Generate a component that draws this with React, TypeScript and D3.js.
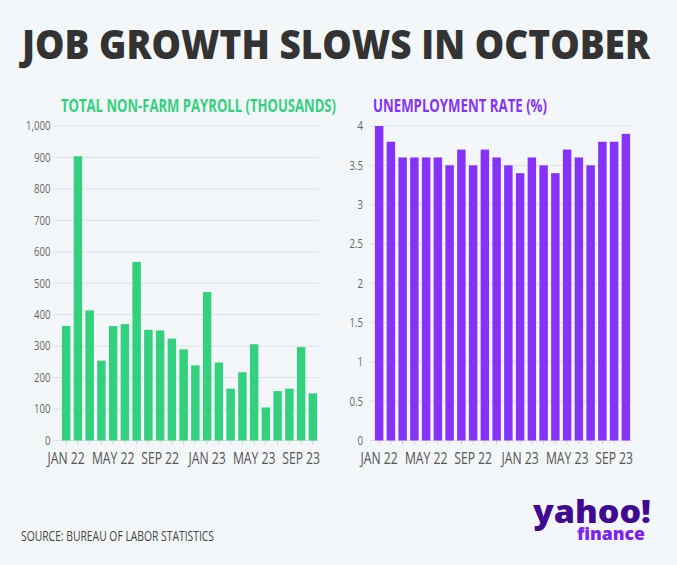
import React from "react";
import * as d3 from "d3";

const months = ["JAN 22","FEB 22","MAR 22","APR 22","MAY 22","JUN 22","JUL 22","AUG 22","SEP 22","OCT 22","NOV 22","DEC 22","JAN 23","FEB 23","MAR 23","APR 23","MAY 23","JUN 23","JUL 23","AUG 23","SEP 23","OCT 23"];
const payroll = [364, 904, 414, 254, 364, 370, 568, 352, 350, 324, 290, 239, 472, 248, 165, 217, 306, 105, 157, 165, 297, 150];
const unemployment = [4.0, 3.8, 3.6, 3.6, 3.6, 3.6, 3.5, 3.7, 3.5, 3.7, 3.6, 3.5, 3.4, 3.6, 3.5, 3.4, 3.7, 3.6, 3.5, 3.8, 3.8, 3.9];
const payrollTicks = [0, 100, 200, 300, 400, 500, 600, 700, 800, 900, 1000];
const rateTicks = [0, 0.5, 1, 1.5, 2, 2.5, 3, 3.5, 4];
const xLabelMonths = ["JAN 22", "MAY 22", "SEP 22", "JAN 23", "MAY 23", "SEP 23"];

const W = 677, H = 565;
const BG = "#f4f7fa";
const GREEN = "#33d17e";
const PURPLE = "#8533fa";
const FONT = "'Open Sans', sans-serif";

type PanelProps = {
  values: number[];
  ticks: number[];
  domainMax: number;
  x0: number; x1: number;
  gx0: number; gx1: number;
  labelRight: number;
  color: string;
  fmt: (v: number) => string;
};

function Panel({ values, ticks, domainMax, x0, x1, gx0, gx1, labelRight, color, fmt }: PanelProps) {
  const y = d3.scaleLinear().domain([0, domainMax]).range([440.5, 126]);
  const x = d3.scaleBand<string>().domain(months).range([x0, x1]).paddingInner(0.28).paddingOuter(0.46);
  return (
    <g>
      {ticks.map((t) => (
        <g key={t}>
          <line x1={gx0} x2={gx1} y1={y(t)} y2={y(t)} stroke="#dde1e6" strokeWidth={1} />
          <text transform={`translate(${labelRight},${y(t)}) scale(0.8,1)`} dy="0.36em" textAnchor="end" fontFamily={FONT} fontSize={12} fill="#666">{fmt(t)}</text>
        </g>
      ))}
      {months.map((m) => (
        <line key={"t" + m} x1={x(m)! + x.bandwidth() / 2} x2={x(m)! + x.bandwidth() / 2} y1={y(0)} y2={y(0) + 4} stroke="#cfd3d8" strokeWidth={1} />
      ))}
      {values.map((v, i) => (
        <rect key={i} x={x(months[i])} width={x.bandwidth()} y={y(v)} height={y(0) - y(v)} fill={color} />
      ))}
      {xLabelMonths.map((m) => (
        <text key={"l" + m} transform={`translate(${x(m)! + x.bandwidth() / 2},463.5) scale(0.76,1)`} textAnchor="middle" fontFamily={FONT} fontSize={16} fill="#555">{m}</text>
      ))}
    </g>
  );
}

export default function App() {
  return (
    <div style={{ position: "absolute", left: 0, top: 0 }}>
      <svg width={W} height={H} style={{ display: "block" }}>
        <rect width={W} height={H} fill={BG} />
        <text x={22} y={59} fontFamily={FONT} fontWeight={800} fontSize={41} fill="#333" textLength={628} lengthAdjust="spacingAndGlyphs">JOB GROWTH SLOWS IN OCTOBER</text>
        <text x={61} y={112} fontFamily={FONT} fontWeight={700} fontSize={18} fill={GREEN} textLength={275} lengthAdjust="spacingAndGlyphs">TOTAL NON-FARM PAYROLL (THOUSANDS)</text>
        <text x={373} y={112} fontFamily={FONT} fontWeight={700} fontSize={18} fill={PURPLE} textLength={174} lengthAdjust="spacingAndGlyphs">UNEMPLOYMENT RATE (%)</text>
        <Panel values={payroll} ticks={payrollTicks} domainMax={1000} x0={56.5} x1={322.5} gx0={53} gx1={319} labelRight={50.5} color={GREEN} fmt={d3.format(",")} />
        <Panel values={unemployment} ticks={rateTicks} domainMax={4} x0={369.5} x1={635.5} gx0={370} gx1={632} labelRight={363} color={PURPLE} fmt={(v) => String(v)} />
        <text x={21} y={541} fontFamily={FONT} fontWeight={400} fontSize={14} fill="#444" textLength={193} lengthAdjust="spacingAndGlyphs">SOURCE: BUREAU OF LABOR STATISTICS</text>
        <text x={533} y={523} fontFamily={FONT} fontWeight={800} fontSize={31} fill="#3f0a8f" textLength={118} lengthAdjust="spacingAndGlyphs">yahoo!</text>
        <text x={577} y={540} fontFamily={FONT} fontWeight={800} fontSize={18} fill="#7b22f2" textLength={68} lengthAdjust="spacingAndGlyphs">finance</text>
      </svg>
    </div>
  );
}
